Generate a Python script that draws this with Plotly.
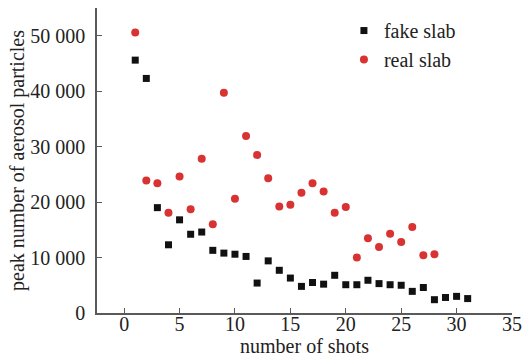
import plotly.graph_objects as go

shots_fake = list(range(1, 32))
fake_slab = [45600, 42300, 19000, 12300, 16800, 14200, 14600, 11300, 10800, 10600,
             10200, 5400, 9400, 7700, 6300, 4800, 5500, 5200, 6800, 5100,
             5100, 5900, 5300, 5100, 5000, 3900, 4600, 2400, 2800, 3000, 2600]

shots_real = list(range(1, 29))
real_slab = [50600, 23900, 23400, 18100, 24600, 18700, 27800, 16000, 39700, 20600,
             31900, 28500, 24300, 19200, 19500, 21700, 23400, 21900, 18100, 19100,
             10000, 13500, 11900, 14300, 12800, 15500, 10400, 10600]

y_tickvals = [0, 10000, 20000, 30000, 40000, 50000]
y_ticktext = ["0", "10 000", "20 000", "30 000", "40 000", "50 000"]
x_tickvals = [0, 5, 10, 15, 20, 25, 30, 35]

FONT = "Liberation Serif"
AX = "#5a5a5a"

fig = go.Figure()
fig.add_trace(go.Scatter(x=shots_fake, y=fake_slab, mode="markers", name="fake slab",
                         marker=dict(symbol="square", size=7, color="#111111")))
fig.add_trace(go.Scatter(x=shots_real, y=real_slab, mode="markers", name="real slab",
                         marker=dict(symbol="circle", size=8, color="#d83232")))

fig.update_layout(
    width=523, height=363,
    margin=dict(l=97, r=11, t=8, b=50, autoexpand=False),
    paper_bgcolor="white", plot_bgcolor="white",
    font=dict(family=FONT, size=20, color="#222222"),
    showlegend=True,
    legend=dict(x=0.595, y=0.99, xanchor="left", yanchor="top",
                bgcolor="rgba(0,0,0,0)", font=dict(size=20, family=FONT),
                itemwidth=30, tracegroupgap=0),
    xaxis=dict(range=[-2.45, 35], tickvals=x_tickvals, ticks="inside", ticklen=5,
               tickcolor=AX, showline=True, linecolor=AX, linewidth=1.5,
               showgrid=False, zeroline=False, automargin=False,
               ticklabelstandoff=-8,
               tickfont=dict(family=FONT, size=20),
               title=dict(text="number of shots", standoff=0,
                          font=dict(family=FONT, size=20))),
    yaxis=dict(range=[0, 55000], tickvals=y_tickvals, ticktext=y_ticktext,
               ticks="inside", ticklen=5, tickcolor=AX, showline=True,
               linecolor=AX, linewidth=1.5, showgrid=False, zeroline=False,
               automargin=False, ticklabelstandoff=6,
               tickfont=dict(family=FONT, size=20),
               title=dict(text="peak number of aerosol particles", standoff=0,
                          font=dict(family=FONT, size=20))),
)

fig.write_html("out.html", config={"displayModeBar": False},
               post_script="document.body.style.margin='0';")
